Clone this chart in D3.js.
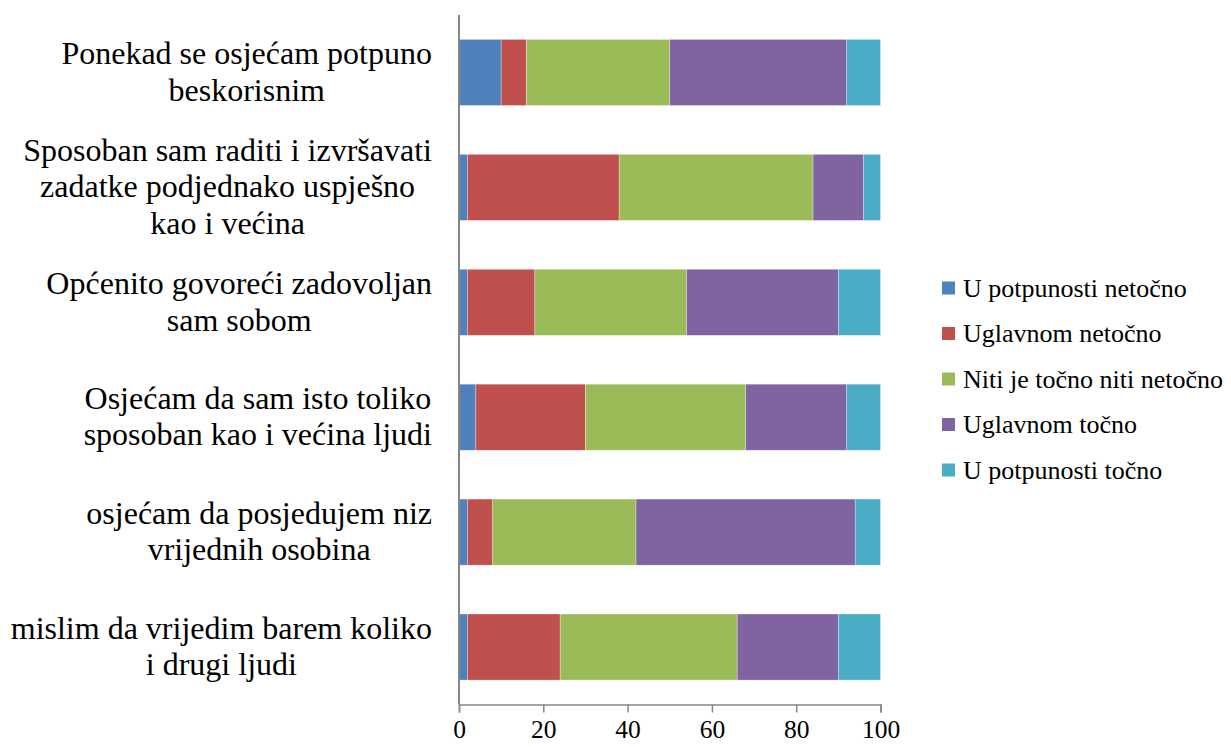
<!DOCTYPE html>
<html>
<head>
<meta charset="utf-8">
<script src="https://cdn.jsdelivr.net/npm/d3@7"></script>
<style>
  body { margin: 0; background: #fff; }
</style>
</head>
<body>
<div id="chart-area"></div>
<script>
// categories top to bottom, each split into lines as in the picture
var categories = [
  ["Ponekad se osjećam potpuno", "beskorisnim"],
  ["Sposoban sam raditi i izvršavati", "zadatke podjednako uspješno", "kao i većina"],
  ["Općenito govoreći zadovoljan", "sam sobom"],
  ["Osjećam da sam isto toliko", "sposoban kao i većina ljudi"],
  ["osjećam da posjedujem niz", "vrijednih osobina"],
  ["mislim da vrijedim barem koliko", "i drugi ljudi"]
];
var seriesNames = ["U potpunosti netočno", "Uglavnom netočno", "Niti je točno niti netočno", "Uglavnom točno", "U potpunosti točno"];
var colors = ["#4F81BD", "#C0504D", "#9BBB59", "#8064A2", "#4BACC6"];

var potpunoNetocno = [10, 2, 2, 4, 2, 2];
var uglavnomNetocno = [6, 36, 16, 26, 6, 22];
var nitiNiti = [34, 46, 36, 38, 34, 42];
var uglavnomTocno = [42, 12, 36, 24, 52, 24];
var potpunoTocno = [8, 4, 10, 8, 6, 10];
var xTicks = [0, 20, 40, 60, 80, 100];

var series = [potpunoNetocno, uglavnomNetocno, nitiNiti, uglavnomTocno, potpunoTocno];

var font = "Liberation Serif";

var margin = { left: 459, right: 350, top: 15, bottom: 42.5 },
    width = 1231 - margin.left - margin.right,
    height = 747 - margin.top - margin.bottom;

var svg = d3.select("#chart-area")
    .append("svg")
    .attr("width", 1231)
    .attr("height", 747);
var g = svg.append("g")
    .attr("transform", "translate(" + margin.left + "," + margin.top + ")");

var x = d3.scaleLinear()
    .domain([0, 100])
    .range([0, width - 0.5]);

var y = d3.scaleBand()
    .domain(d3.range(categories.length))
    .range([0, height])
    .paddingInner(0.425)
    .paddingOuter(0.2125);

// stacked data
var rows = categories.map(function(c, i) {
    var r = { idx: i };
    seriesNames.forEach(function(s, j) { r[s] = series[j][i]; });
    return r;
});
var stacked = d3.stack().keys(seriesNames)(rows);

g.selectAll(".layer")
    .data(stacked)
    .enter()
    .append("g")
    .attr("class", "layer")
    .attr("fill", function(d, i) { return colors[i]; })
    .selectAll("rect")
    .data(function(d) { return d; })
    .enter()
    .append("rect")
    .attr("x", function(d) { return x(d[0]); })
    .attr("width", function(d) { return x(d[1]) - x(d[0]); })
    .attr("y", function(d) { return y(d.data.idx); })
    .attr("height", y.bandwidth())
    .attr("stroke", "rgba(255,255,255,0.5)")
    .attr("stroke-width", 0.6);

// x axis
var xAxisCall = d3.axisBottom(x).tickValues(xTicks).tickSize(8).tickPadding(7);
var xAxis = g.append("g")
    .attr("transform", "translate(0," + height + ")")
    .call(xAxisCall);
xAxis.select(".domain").attr("stroke", "#868686").attr("stroke-width", 1.5);
xAxis.selectAll(".tick line").attr("stroke", "#868686").attr("stroke-width", 1.5);
xAxis.selectAll("text")
    .style("font-family", font)
    .style("font-size", "25.5px")
    .attr("fill", "#000");

// y axis line
g.append("line")
    .attr("x1", 0).attr("x2", 0)
    .attr("y1", 0).attr("y2", height)
    .attr("stroke", "#868686")
    .attr("stroke-width", 2);

// category labels: block right aligned, lines centred in block
var lineH = 36.5;
var labelRight = 432 - margin.left;
categories.forEach(function(lines, i) {
    var grp = g.append("g");
    var texts = lines.map(function(l, k) {
        return grp.append("text")
            .style("font-family", font)
            .style("font-size", "32px")
            .attr("fill", "#000")
            .attr("text-anchor", "middle")
            .attr("y", y(i) + y.bandwidth() / 2 + (k - (lines.length - 1) / 2) * lineH + 10)
            .text(l);
    });
    var maxW = d3.max(texts, function(t) { return t.node().getComputedTextLength(); });
    texts.forEach(function(t) { t.attr("x", labelRight - maxW / 2); });
});

// legend
var legend = svg.append("g")
    .attr("transform", "translate(942,288)");
seriesNames.forEach(function(s, i) {
    var row = legend.append("g").attr("transform", "translate(0," + (i * 45.5) + ")");
    row.append("rect")
        .attr("x", 0).attr("y", -6.5)
        .attr("width", 13).attr("height", 13)
        .attr("fill", colors[i]);
    row.append("text")
        .attr("x", 21).attr("y", 8.5)
        .style("font-family", font)
        .style("font-size", "26px")
        .attr("fill", "#000")
        .text(s);
});
</script>
</body>
</html>
